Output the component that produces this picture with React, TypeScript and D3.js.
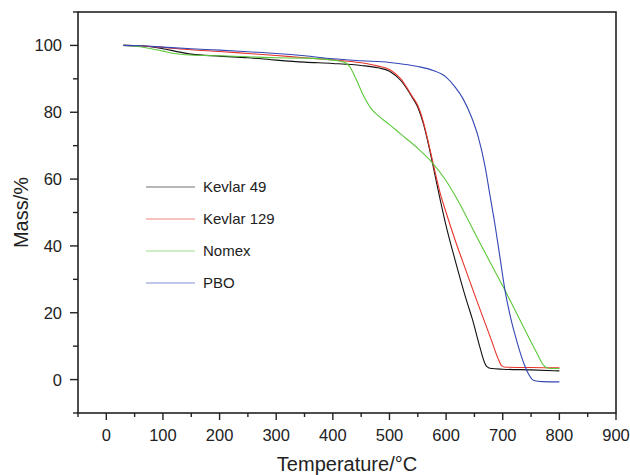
import React from "react";
import * as d3 from "d3";

// TGA curves
const kevlar49T = [30, 60, 100, 130, 150, 200, 250, 300, 350, 400, 450, 480, 500, 520, 540, 550, 560, 570, 580, 590, 600, 616, 636, 646, 660, 667, 672, 680, 700, 750, 800];
const kevlar49M = [100, 99.9, 99, 98, 97.4, 96.8, 96.3, 95.6, 95, 94.6, 94, 93.3, 92.3, 89.5, 84.5, 81.5, 76.5, 69.5, 61.5, 53.5, 46, 35.7, 23.7, 18.3, 9.5, 5.5, 3.9, 3.3, 3.1, 2.9, 2.6];

const kevlar129T = [30, 60, 100, 150, 200, 250, 300, 350, 400, 450, 480, 500, 520, 540, 550, 560, 570, 580, 590, 600, 616, 630, 654, 680, 692, 698, 705, 750, 800];
const kevlar129M = [100, 99.9, 99.4, 98.7, 98.2, 97.6, 97, 96.3, 95.7, 94.8, 93.8, 92.8, 90, 84.8, 82, 77, 70, 62.5, 55.5, 50, 41.7, 35, 23.7, 11.8, 6.2, 4.2, 3.7, 3.6, 3.5];

const nomexT = [30, 60, 80, 100, 120, 140, 200, 250, 300, 350, 400, 420, 430, 440, 454, 468, 480, 500, 519, 550, 575, 600, 616, 660, 704, 730, 760, 772, 780, 800];
const nomexM = [100, 99.6, 99, 98.3, 97.6, 97.2, 96.9, 96.6, 96.3, 96.2, 95.6, 95, 93.6, 90.3, 85, 81, 79, 76.3, 73.6, 69.2, 65, 59.5, 55, 40.8, 26.7, 18, 8, 4.3, 3.4, 3.3];

const pboT = [30, 60, 100, 150, 200, 250, 300, 350, 400, 450, 500, 519, 550, 577, 600, 616, 630, 645, 657, 669, 678, 686, 695, 704, 714, 722, 730, 738, 746, 754, 770, 800];
const pboM = [100, 99.9, 99.5, 99, 98.6, 98.1, 97.6, 96.9, 96, 95.4, 94.9, 94.5, 93.7, 92.5, 90.5, 87.5, 84, 78.5, 72.5, 63.6, 54.6, 46.7, 36.7, 26.7, 18.5, 13.2, 8.5, 4.5, 1.5, -0.2, -0.6, -0.7];

const seriesNames = ["Kevlar 49", "Kevlar 129", "Nomex", "PBO"];
const seriesColors = ["#111111", "#e8332a", "#5cc83a", "#3447b5"];

const xMajorTicks = [0, 100, 200, 300, 400, 500, 600, 700, 800, 900];
const xMinorTicks = [-50, 50, 150, 250, 350, 450, 550, 650, 750, 850];
const yMajorTicks = [0, 20, 40, 60, 80, 100];
const yMinorTicks = [-10, 10, 30, 50, 70, 90, 110];

const W = 630, H = 475;
const left = 78, right = 616, top = 12, bottom = 413;
const font = "'Liberation Sans', Arial, Helvetica, sans-serif";

export default function App() {
  const x = d3.scaleLinear().domain([-50, 900]).range([left, right]);
  const y = d3.scaleLinear().domain([-10, 110]).range([bottom, top]);

  const series = [
    { t: kevlar49T, m: kevlar49M },
    { t: kevlar129T, m: kevlar129M },
    { t: nomexT, m: nomexM },
    { t: pboT, m: pboM },
  ];

  const line = d3
    .line<[number, number]>()
    .x((d) => x(d[0]))
    .y((d) => y(d[1]))
    .curve(d3.curveMonotoneX);

  const axisColor = "#222";

  return (
    <svg width={W} height={H} style={{ position: "absolute", left: 0, top: 0 }} fontFamily={font}>
      <rect width={W} height={H} fill="#fff" />

      {/* curves */}
      {series.map((s, i) => (
        <path
          key={seriesNames[i]}
          d={line(s.t.map((t, k) => [t, s.m[k]] as [number, number])) || ""}
          fill="none"
          stroke={seriesColors[i]}
          strokeWidth={1.1}
        />
      ))}

      {/* frame */}
      <rect x={left} y={top} width={right - left} height={bottom - top} fill="none" stroke={axisColor} strokeWidth={1.6} />

      {/* x ticks */}
      {xMajorTicks.map((t) => (
        <g key={"xm" + t}>
          <line x1={x(t)} x2={x(t)} y1={bottom} y2={bottom + 7} stroke={axisColor} strokeWidth={1.4} />
          <text x={x(t)} y={bottom + 28} textAnchor="middle" fontSize={16.5} fill="#222">{t}</text>
        </g>
      ))}
      {xMinorTicks.map((t) => (
        <line key={"xn" + t} x1={x(t)} x2={x(t)} y1={bottom} y2={bottom + 4} stroke={axisColor} strokeWidth={1.4} />
      ))}

      {/* y ticks */}
      {yMajorTicks.map((t) => (
        <g key={"ym" + t}>
          <line x1={left} x2={left - 8} y1={y(t)} y2={y(t)} stroke={axisColor} strokeWidth={1.4} />
          <text x={left - 16} y={y(t)} dy="0.36em" textAnchor="end" fontSize={16.5} fill="#222">{t}</text>
        </g>
      ))}
      {yMinorTicks.map((t) => (
        <line key={"yn" + t} x1={left} x2={left - 5} y1={y(t)} y2={y(t)} stroke={axisColor} strokeWidth={1.4} />
      ))}

      {/* axis titles */}
      <text x={(left + right) / 2} y={471} textAnchor="middle" fontSize={20} fill="#222">Temperature/°C</text>
      <text transform={`translate(28,${(top + bottom) / 2}) rotate(-90)`} textAnchor="middle" fontSize={20} fill="#222">Mass/%</text>

      {/* legend */}
      {seriesNames.map((name, i) => (
        <g key={"lg" + name} transform={`translate(146,${187 + i * 32})`}>
          <line x1={0} x2={49} y1={0} y2={0} stroke={seriesColors[i]} strokeWidth={1} strokeOpacity={0.6} />
          <text x={57} y={0} dy="0.36em" fontSize={15} fill="#222">{name}</text>
        </g>
      ))}
    </svg>
  );
}
